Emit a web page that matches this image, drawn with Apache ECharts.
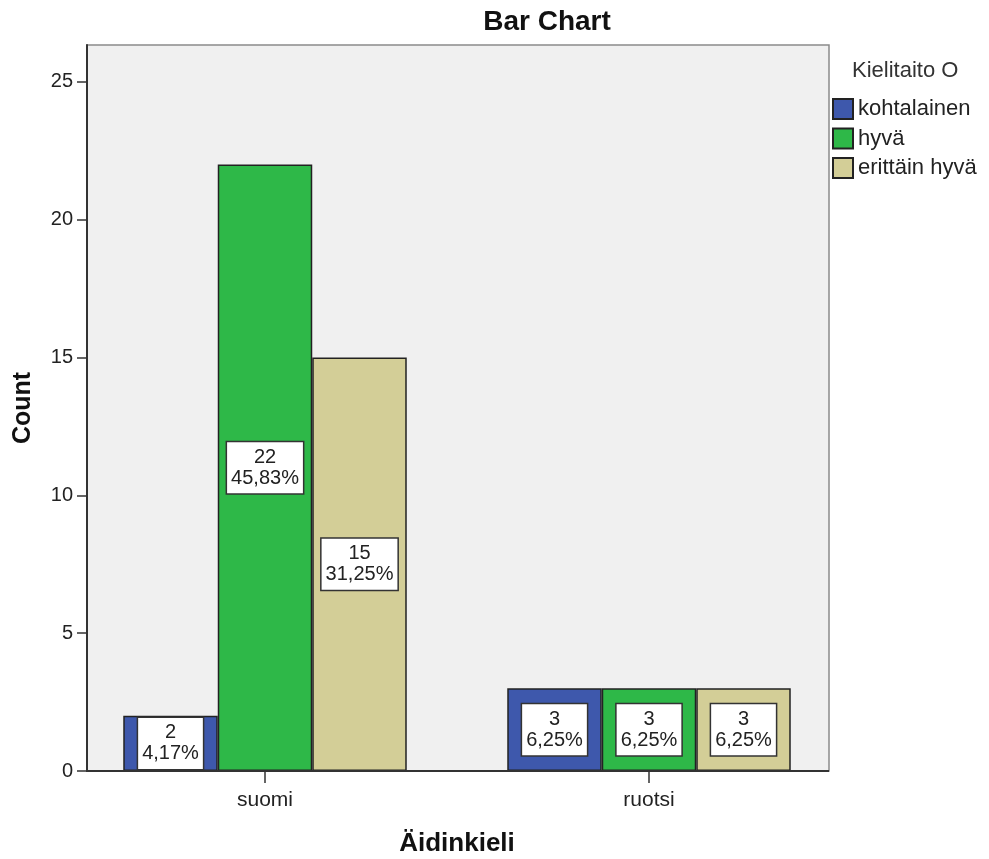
<!DOCTYPE html>
<html>
<head>
<meta charset="utf-8">
<script src="https://cdn.jsdelivr.net/npm/echarts@6/dist/echarts.min.js"></script>
<style>
html,body{margin:0;padding:0;background:#fff;}
#chart{width:989px;height:859px;}
</style>
</head>
<body>
<div id="chart"></div>
<script>
// ---- data ----
const categories = ['suomi', 'ruotsi'];
const seriesNames = ['kohtalainen', 'hyvä', 'erittäin hyvä'];
const kohtalainen = [2, 3];
const hyva = [22, 3];
const erittainHyva = [15, 3];
const pctKohtalainen = ['4,17%', '6,25%'];
const pctHyva = ['45,83%', '6,25%'];
const pctErittainHyva = ['31,25%', '6,25%'];
const yTicks = [0, 5, 10, 15, 20, 25];

const FONT = '"Liberation Sans", Arial, sans-serif';
const colors = ['#3E58AC', '#2EB848', '#D3CE97'];

const chart = echarts.init(document.getElementById('chart'), null, {renderer: 'canvas'});

function makeSeries(name, values, pcts, color) {
  return {
    name: name,
    type: 'bar',
    data: values,
    barWidth: 94.5,
    barGap: '0%',
    itemStyle: {color: color, borderColor: '#222', borderWidth: 1.5},
    label: {
      show: true,
      position: 'inside',
      formatter: p => p.value + '\n' + pcts[p.dataIndex],
      backgroundColor: '#fff',
      borderColor: '#333',
      borderWidth: 1.5,
      padding: [5, 4, 4, 4],
      fontSize: 20,
      lineHeight: 21,
      color: '#222',
      fontFamily: FONT,
      align: 'center'
    },
    z: 3
  };
}

const option = {
  animation: false,
  backgroundColor: '#fff',
  textStyle: {fontFamily: FONT},
  title: [
    {text: 'Bar Chart', left: 547, top: 8, padding: 0, textAlign: 'center',
     textStyle: {fontSize: 28, fontWeight: 'bold', color: '#111', fontFamily: FONT}},
    {text: 'Kielitaito O', left: 852, top: 60, padding: 0,
     textStyle: {fontSize: 22, fontWeight: 'normal', color: '#333', fontFamily: FONT}}
  ],
  legend: {
    orient: 'vertical',
    left: 832,
    top: 98,
    padding: 0,
    itemWidth: 20,
    itemHeight: 20,
    itemGap: 7.5,
    icon: 'rect',
    textStyle: {fontSize: 22, lineHeight: 22, color: '#222', fontFamily: FONT},
    data: seriesNames
  },
  grid: {left: 73, right: 148, top: 45, bottom: 88, outerBoundsMode: 'none', containLabel: false},
  xAxis: {
    type: 'category',
    data: categories,
    name: 'Äidinkieli',
    nameLocation: 'middle',
    nameGap: 60,
    nameTextStyle: {fontSize: 26, fontWeight: 'bold', color: '#111', fontFamily: FONT},
    axisLine: {show: false},
    axisTick: {show: true, alignWithLabel: true, length: 12, lineStyle: {color: '#333', width: 1.5}},
    axisLabel: {fontSize: 21, color: '#222', margin: 19, fontFamily: FONT},
    splitLine: {show: false}
  },
  yAxis: {
    type: 'value',
    min: 0,
    max: 26.34,
    interval: 5,
    offset: -14,
    name: 'Count',
    nameLocation: 'middle',
    nameGap: 51,
    nameTextStyle: {fontSize: 25, fontWeight: 'bold', color: '#111', fontFamily: FONT},
    axisLine: {show: true, lineStyle: {color: '#333', width: 2}},
    axisTick: {show: true, length: 10, customValues: yTicks, lineStyle: {color: '#333', width: 1.5}},
    axisLabel: {fontSize: 20, color: '#222', margin: 14, customValues: yTicks, fontFamily: FONT},
    splitLine: {show: false}
  },
  graphic: [
    {type: 'rect', z: -10, shape: {x: 87, y: 45, width: 742, height: 726},
     style: {fill: '#F0F0F0', stroke: '#8a8a8a', lineWidth: 1.5}},
    {type: 'line', z: 10, shape: {x1: 86, y1: 771, x2: 829, y2: 771},
     style: {stroke: '#333', lineWidth: 2}}
  ],
  series: [
    makeSeries(seriesNames[0], kohtalainen, pctKohtalainen, colors[0]),
    makeSeries(seriesNames[1], hyva, pctHyva, colors[1]),
    makeSeries(seriesNames[2], erittainHyva, pctErittainHyva, colors[2])
  ]
};

chart.setOption(option);
</script>
</body>
</html>
